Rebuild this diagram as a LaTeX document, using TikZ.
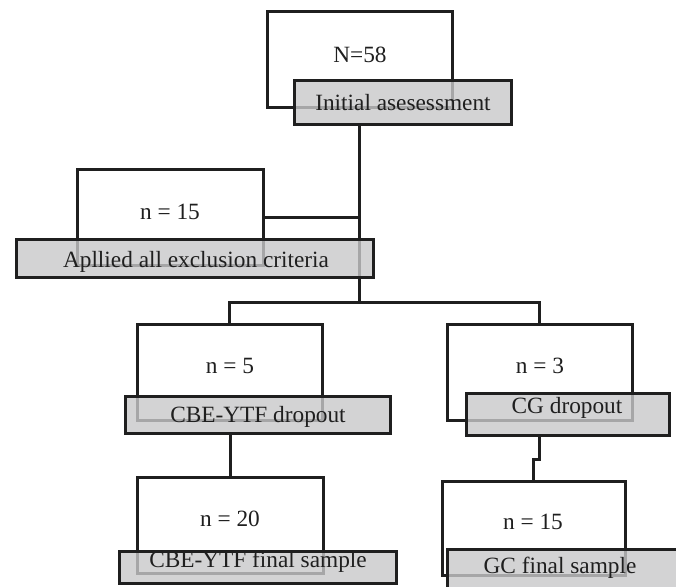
\documentclass[tikz,border=0pt]{standalone}
\usepackage{fontspec}
\setmainfont{Liberation Serif}
\definecolor{boxgray}{RGB}{200,200,202}
\begin{document}
\begin{tikzpicture}[x=1pt,y=-1pt,
  ln/.style={line width=3pt, draw=black!88},
  wbox/.style={ln, rectangle, inner sep=0pt, outer sep=0pt},
  gbox/.style={ln, rectangle, inner sep=0pt, outer sep=0pt, fill=boxgray, fill opacity=0.8},
  txt/.style={anchor=base, inner sep=0pt, font=\fontsize{23.3}{26}\selectfont, text=black!88}]
\useasboundingbox (0,0) rectangle (676,586);
\clip (0,0) rectangle (676,586);
\fill[white] (0,0) rectangle (676,586);
% white boxes
\node[wbox, minimum width=185pt, minimum height=95pt] (b58) at (359.5,59.5) {};
\node[wbox, minimum width=186pt, minimum height=96pt] (b15a) at (170,217) {};
\node[wbox, minimum width=185pt, minimum height=96pt] (b5) at (229.5,372) {};
\node[wbox, minimum width=185pt, minimum height=96pt] (b3) at (539.5,372) {};
\node[wbox, minimum width=186pt, minimum height=96pt] (b20) at (230,525) {};
\node[wbox, minimum width=183pt, minimum height=94pt] (b15b) at (533.5,528) {};
% split coordinates
\coordinate (s1) at (359,302);
\coordinate (j1) at (539,459);
\coordinate (j2) at (533,459);
\path (402.5,102) coordinate (g1c);
% connectors
\draw[ln] (359,124) -- (s1);
\draw[ln] (b15a.east) -- (b15a.east -| s1);
\draw[ln] (b5.north) |- (s1) -| (b3.north);
\draw[ln] (230,433) -- (b20.north);
\draw[ln] (539,435) -- (j1) -- (j2) -- (b15b.north -| j2);
% gray boxes
\node[gbox, minimum width=217pt, minimum height=44pt] (g1) at (g1c) {};
\node[gbox, minimum width=357pt, minimum height=38pt] (g2) at (194.5,258) {};
\node[gbox, minimum width=265pt, minimum height=37pt] (g3) at (257.5,414.5) {};
\node[gbox, minimum width=203pt, minimum height=42pt] (g4) at (567.5,414) {};
\node[gbox, minimum width=277pt, minimum height=32pt] (g5) at (257.5,567) {};
\node[gbox, minimum width=252pt, minimum height=52pt] (g6) at (573,575) {};
% texts
\node[txt] (t58) at (360,62) {N=58};
\node[txt] (t1) at (403,110) {Initial asesessment};
\node[txt] (t15a) at (170,219) {n = 15};
\node[txt] (t2) at (196,267) {Apllied all exclusion criteria};
\node[txt] (t5) at (230,373) {n = 5};
\node[txt] (t3d) at (258,422) {CBE-YTF dropout};
\node[txt] (t3) at (540,373) {n = 3};
\node[txt] (t4d) at (567,413) {CG dropout};
\node[txt] (t20) at (230,526) {n = 20};
\node[txt] (t15b) at (533,529) {n = 15};
\node[txt] (t5f) at (258,567) {CBE-YTF final sample};
\node[txt] (t6f) at (560,573) {GC final sample};
\end{tikzpicture}
\end{document}
